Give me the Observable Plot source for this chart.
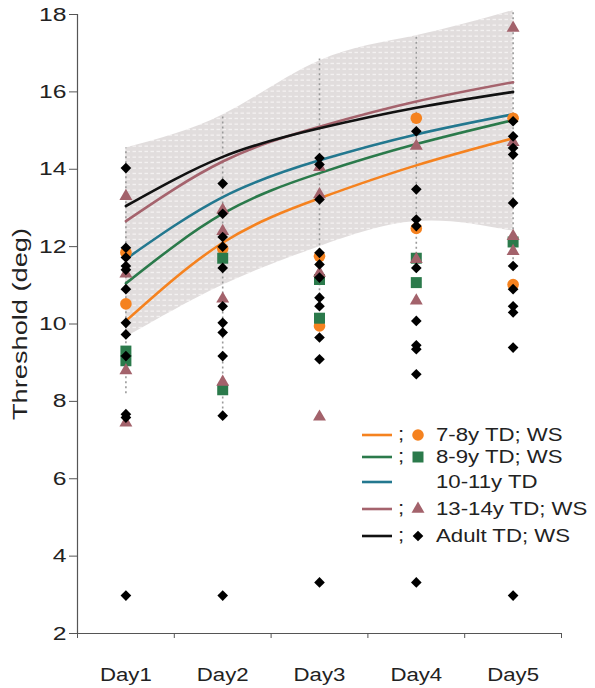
<!DOCTYPE html>
<html>
<head>
<meta charset="utf-8">
<script src="https://cdn.jsdelivr.net/npm/d3@7"></script>
<script src="https://cdn.jsdelivr.net/npm/@observablehq/plot@0.6"></script>
<style>
  html, body { margin: 0; padding: 0; background: #fff; }
  #wrap { position: relative; width: 595px; height: 688px; font-family: "Liberation Sans", Arial, sans-serif; }
  #legend { position: absolute; left: 0; top: 0; pointer-events: none; }
</style>
</head>
<body>
<div id="wrap"></div>
<script>
// ---------- DATA ----------
const days = [1, 2, 3, 4, 5];
const dayLabels = ["Day1", "Day2", "Day3", "Day4", "Day5"];
const yTicks = [2, 4, 6, 8, 10, 12, 14, 16, 18];

// shaded envelope (upper / lower bound per day)
const bandUpper = [14.55, 15.4, 16.8, 17.45, 18.1];
const bandLower = [9.65, 11.0, 12.0, 12.65, 12.4];

// dashed vertical error bars
const errHigh = [14.55, 15.4, 16.85, 17.45, 18.1];
const errLow  = [8.2, 7.8, 10.6, 11.8, 11.4];

// fitted curves per TD group
const fit78    = [10.08, 12.1, 13.25, 14.1, 14.8];
const fit89    = [11.05, 12.85, 13.9, 14.65, 15.27];
const fit1011  = [11.68, 13.28, 14.23, 14.9, 15.42];
const fit1314  = [12.66, 14.2, 15.1, 15.75, 16.25];
const fitAdult = [13.05, 14.32, 15.06, 15.59, 16.0];

// WS individual thresholds per day
const ws78 = [[11.85, 10.52], [11.95], [11.75, 9.95], [15.32, 12.47], [15.32, 11.02]];
const ws89 = [[9.3, 9.05], [11.7, 8.3], [11.15, 10.15], [11.7, 11.07], [12.12]];
const ws1314 = [[13.3, 11.3, 8.8, 7.45], [12.95, 12.4, 10.65, 8.5], [14.05, 13.35, 11.32, 7.6], [14.6, 11.67, 10.6], [17.65, 14.7, 12.27, 11.88]];
const wsAdult = [
  [14.03, 11.97, 11.72, 11.5, 11.4, 10.9, 10.03, 9.73, 9.17, 7.67, 7.58, 2.98],
  [13.63, 12.85, 12.25, 12.0, 11.45, 10.46, 10.03, 9.78, 9.17, 7.63, 2.98],
  [14.29, 14.12, 13.22, 11.84, 11.54, 11.2, 10.68, 10.46, 9.65, 9.09, 3.32],
  [14.98, 13.48, 12.7, 12.53, 11.45, 10.08, 9.45, 9.35, 8.7, 3.32],
  [15.24, 14.85, 14.55, 14.38, 13.13, 11.5, 10.9, 10.46, 10.3, 9.39, 2.98]
];

const legendLabels = ["7-8y TD; WS", "8-9y TD; WS", "10-11y TD", "13-14y TD; WS", "Adult TD; WS"];
const yTitle = "Threshold (deg)";

// ---------- STYLE ----------
const C = {
  orange: "#f5821f", green: "#2b7a4b", blue: "#23788f", pink: "#a5636d", black: "#111111",
  tri: "#a3626b", sq: "#2b7a4b", circ: "#f5821f", dia: "#000000"
};
const FONT = "'Liberation Sans', Arial, sans-serif";

const flat = (arr) => arr.flatMap((vals, i) => vals.map(v => ({day: days[i], v})));
const series = (vals) => days.map((d, i) => ({day: d, v: vals[i]}));
const band = days.map((d, i) => ({day: d, lo: bandLower[i], hi: bandUpper[i]}));
const errs = days.map((d, i) => ({day: d, lo: errLow[i], hi: errHigh[i]}));

const fits = [
  {vals: fit78, color: C.orange},
  {vals: fit89, color: C.green},
  {vals: fit1011, color: C.blue},
  {vals: fit1314, color: C.pink},
  {vals: fitAdult, color: C.black}
];

const chart = Plot.plot({
  width: 595,
  height: 688,
  marginLeft: 77,
  marginRight: 34,
  marginTop: 14,
  marginBottom: 55,
  style: {fontFamily: FONT, fontSize: "18px", color: "#222", background: "#fff"},
  x: {domain: [0.5, 5.5], axis: null},
  y: {domain: [2, 18], axis: null},
  marks: [
    Plot.areaY(band, {x: "day", y1: "lo", y2: "hi", curve: "natural", fill: "url(#tex)"}),
    Plot.ruleX(errs, {x: "day", y1: "lo", y2: "hi", stroke: "#9a9a9a", strokeWidth: 1.6, strokeDasharray: "2,3"}),
    ...fits.map(f => Plot.line(series(f.vals), {x: "day", y: "v", curve: "natural", stroke: f.color, strokeWidth: 2.6})),
    Plot.dot(flat(ws78), {x: "day", y: "v", symbol: "circle", r: 5.8, fill: C.circ}),
    Plot.dot(flat(ws89), {x: "day", y: "v", symbol: "square", r: 6.2, fill: C.sq}),
    Plot.dot(flat(ws1314), {x: "day", y: "v", symbol: "triangle", r: 4.8, fill: C.tri}),
    Plot.dot(flat(wsAdult), {x: "day", y: "v", symbol: "diamond2", r: 4.8, fill: C.dia}),
    // axes
    Plot.ruleY([2], {stroke: "#555", strokeWidth: 1.2}),
    Plot.ruleX([0.5], {stroke: "#555", strokeWidth: 1.2}),
    Plot.axisY({ticks: yTicks, tickSize: 8, tickPadding: 3, fontSize: 19, stroke: "#555", fill: "#222", label: null}),
    Plot.axisX({ticks: [0.5, 1.5, 2.5, 3.5, 4.5, 5.5], tickSize: 5, tickFormat: () => "", stroke: "#555", label: null}),
    Plot.axisX({ticks: days, tickSize: 0, tickPadding: 34, tickFormat: d => dayLabels[d - 1], fontSize: 18.5, fill: "#222", label: null}),
    Plot.text([yTitle], {frameAnchor: "left", rotate: -90, dx: -57, fontSize: 21, fill: "#222", textAnchor: "middle"})
  ]
});

const svg = d3.select(chart);

// widen text glyphs horizontally to match the reference's stretched lettering
svg.selectAll("text").each(function () {
  const t = d3.select(this);
  const s = t.text();
  if (s === yTitle) {
    t.attr("textLength", 192).attr("lengthAdjust", "spacingAndGlyphs");
    return;
  }
  const tr = t.attr("transform");
  if (!tr || !/translate/.test(tr) || s === "") return;
  const k = /^Day/.test(s) ? 1.2 : 1.3;
  t.attr("transform", tr + ` scale(${k},1)`);
});

// texture pattern for the envelope
const defs = svg.insert("defs", ":first-child");
const pat = defs.append("pattern").attr("id", "tex").attr("patternUnits", "userSpaceOnUse")
  .attr("width", 6).attr("height", 5.5);
pat.append("rect").attr("width", 6).attr("height", 5.5).attr("fill", "#e1dddd");
pat.append("rect").attr("x", 0.5).attr("y", 2.5).attr("width", 3.5).attr("height", 1.2).attr("fill", "#f7f5f5");

document.getElementById("wrap").appendChild(chart);

// ---------- LEGEND (overlay) ----------
const lg = d3.select("#wrap").append("svg").attr("id", "legend").attr("width", 595).attr("height", 688);
const rowY = [435, 457, 482, 509, 536];
const legendItems = [
  {color: C.orange, sym: d3.symbolCircle, size: Math.PI * 5.8 * 5.8, fill: C.circ},
  {color: C.green, sym: d3.symbolSquare, size: Math.PI * 6.2 * 6.2, fill: C.sq},
  {color: C.blue, sym: null},
  {color: C.pink, sym: d3.symbolTriangle, size: Math.PI * 4.8 * 4.8, fill: C.tri},
  {color: C.black, sym: d3.symbolDiamond2, size: Math.PI * 4.8 * 4.8, fill: C.dia}
];
legendItems.forEach((it, i) => {
  const y = rowY[i];
  lg.append("line").attr("x1", 362).attr("x2", 392).attr("y1", y).attr("y2", y)
    .attr("stroke", it.color).attr("stroke-width", 2.6);
  if (it.sym) {
    lg.append("text").attr("transform", `translate(398,${y + 5}) scale(1.2,1)`)
      .attr("font-family", FONT).attr("font-size", 18.5).attr("fill", "#222").text(";");
    lg.append("path").attr("transform", `translate(418,${y})`)
      .attr("d", d3.symbol(it.sym, it.size)()).attr("fill", it.fill);
  }
  lg.append("text").attr("transform", `translate(436,${y}) scale(1.2,1)`).attr("dy", "0.35em")
    .attr("font-family", FONT).attr("font-size", 18.5).attr("fill", "#222").text(legendLabels[i]);
});
</script>
</body>
</html>
